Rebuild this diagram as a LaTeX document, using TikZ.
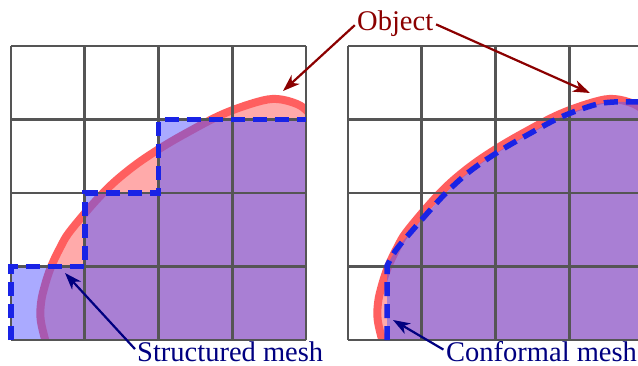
\documentclass[tikz,border=0pt]{standalone}
\usepackage{fontspec}
\setmainfont{Liberation Serif}
\usetikzlibrary{arrows.meta}
\definecolor{gridgray}{RGB}{85,85,85}
\definecolor{objred}{RGB}{255,95,95}
\definecolor{objpink}{RGB}{255,170,170}
\definecolor{meshblue}{RGB}{85,85,255}
\definecolor{dashblue}{RGB}{25,35,230}
\definecolor{objtext}{RGB}{139,0,0}
\definecolor{meshtext}{RGB}{0,0,128}
\tikzset{
  gridline/.style={draw=gridgray, line width=2.6pt},
  objfill/.style={fill=objpink},
  objline/.style={draw=objred, line width=8pt},
  meshfill/.style={fill=meshblue, fill opacity=0.5},
  meshline/.style={draw=dashblue, line width=5.5pt, dash pattern=on 14pt off 8pt},
  label/.style={font=\fontsize{28.5pt}{30pt}\selectfont, inner sep=0pt},
  objarrow/.style={draw=objtext, line width=2.2pt, shorten <=3pt, -{Stealth[length=17pt,width=12pt,inset=5pt]}},
  mesharrow/.style={draw=meshtext, line width=2.2pt, shorten <=3pt, -{Stealth[length=17pt,width=12pt,inset=5pt]}},
}
\begin{document}
\begin{tikzpicture}[x=1pt,y=-1pt]
\useasboundingbox (0,0) rectangle (638,365);
\clip (0,0) rectangle (638,365);
% object in both panels
\foreach \dx in {0,337} {
  \begin{scope}[xshift=\dx pt]
    \begin{scope}
      \clip (11,46) rectangle (306,340);
      \fill[objfill] plot[smooth, tension=0.6] coordinates {(48,350) (41,322) (41,303) (45,285) (51,267) (60,248) (71,230) (103,193) (130,169) (159,149) (190,131) (223,114) (257,102) (277,99) (297,104) (308,112) (314,122)} -- (330,350) -- (30,350) -- cycle;
      \draw[objline] plot[smooth, tension=0.6] coordinates {(48,350) (41,322) (41,303) (45,285) (51,267) (60,248) (71,230) (103,193) (130,169) (159,149) (190,131) (223,114) (257,102) (277,99) (297,104) (308,112) (314,122)};
    \end{scope}
  \end{scope}
}
% structured mesh fill
\fill[meshfill] (11,340) -- (11,266.5) -- (84.75,266.5) -- (84.75,193) -- (158.5,193) -- (158.5,119.5) -- (306,119.5) -- (306,340) -- cycle;
% conformal mesh fill
\fill[meshfill] (387,340) -- plot[smooth, tension=0.55] coordinates {(387,266) (396,250) (411,232) (443,196) (469,172) (498,152) (529,134) (561,117) (594,105) (614,102) (643,102)} -- (643,340) -- cycle;
% grids
\foreach \dx in {0,337} {
  \begin{scope}[xshift=\dx pt]
    \foreach \i in {0,...,4} {
      \draw[gridline] (11+73.75*\i,46) -- (11+73.75*\i,340);
      \draw[gridline] (11,46+73.5*\i) -- (306,46+73.5*\i);
    }
  \end{scope}
}
% mesh boundaries
\draw[meshline] (11,340) -- (11,266.5) -- (84.75,266.5) -- (84.75,193) -- (158.5,193) -- (158.5,119.5) -- (306,119.5);
\draw[meshline] (387,340) -- plot[smooth, tension=0.55] coordinates {(387,266) (396,250) (411,232) (443,196) (469,172) (498,152) (529,134) (561,117) (594,105) (614,102) (643,102)};
% labels
\node[label, text=objtext, anchor=base west] (obj) at (357,30) {Object};
\node[label, text=meshtext, anchor=base west] (smesh) at (137,361) {Structured mesh};
\node[label, text=meshtext, anchor=base west] (cmesh) at (446,361) {Conformal mesh};
\coordinate (tipL) at (283,91);
\coordinate (tipR) at (590,93);
\coordinate (tipS) at (65,273);
\coordinate (tipC) at (393,320);
\draw[objarrow] (obj.west) -- (tipL);
\draw[objarrow] (obj.east) -- (tipR);
\draw[mesharrow] (smesh.west) -- (tipS);
\draw[mesharrow] (cmesh.west) -- (tipC);
\end{tikzpicture}
\end{document}
